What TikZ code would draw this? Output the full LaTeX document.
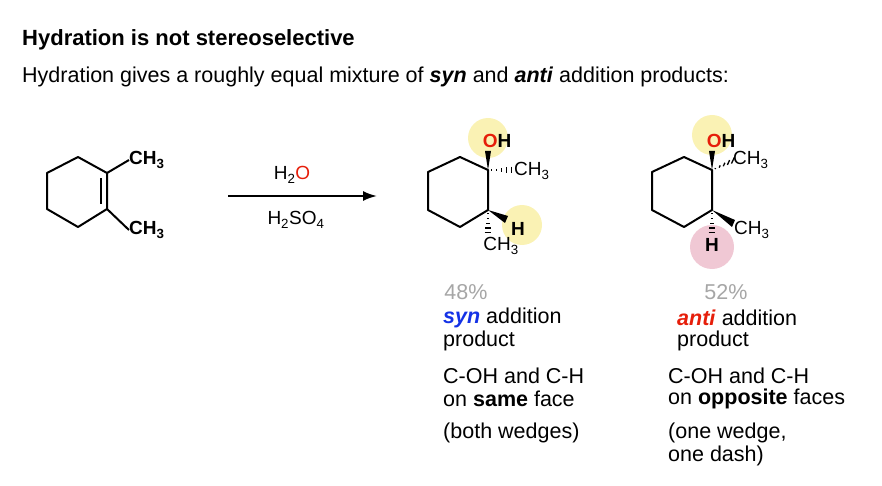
\documentclass[tikz,border=0pt]{standalone}
\usepackage{fontspec}
\setmainfont{Liberation Sans}
\usetikzlibrary{calc,arrows.meta}
\definecolor{ored}{RGB}{230,30,10}
\definecolor{sblue}{RGB}{20,50,230}
\definecolor{ylw}{RGB}{250,242,180}
\definecolor{pnk}{RGB}{240,200,212}
\newcommand{\sub}[1]{\textsubscript{#1}}
\begin{document}
\begin{tikzpicture}[x=1pt,y=-1pt,
  bond/.style={line width=2pt,line join=round},
  lab/.style={inner sep=0pt,font=\fontsize{19}{21}\selectfont},
  blab/.style={inner sep=0pt,font=\bfseries\fontsize{19}{21}\selectfont},
  txt/.style={inner sep=0pt,anchor=west,font=\fontsize{21.5}{24}\selectfont},
  glow/.style={circle,minimum size=40pt,inner sep=0pt,fill=#1}]
\useasboundingbox (0,0) rectangle (882,486);
\node[txt,font=\bfseries\fontsize{22}{24}\selectfont] (t) at (22,40) {Hydration is not stereoselective};
\node[txt] (s) at (22,77) {Hydration gives a roughly equal mixture of \textbf{\textit{syn}} and \textbf{\textit{anti}} addition products:};
% reactant
\coordinate (a1) at (107,173);\coordinate (a2) at (107,209);\coordinate (a3) at (78,227);
\coordinate (a4) at (47,209);\coordinate (a5) at (47,173);\coordinate (a6) at (78,157);
\draw[bond] (a1)--(a2)--(a3)--(a4)--(a5)--(a6)--cycle;
\draw[bond] ($(a1)!0.15!(a2)+(-6,0)$) -- ($(a2)!0.15!(a1)+(-6,0)$);
\node[blab,anchor=west] (m1) at (129,160) {CH\sub{3}};
\node[blab,anchor=west] (m2) at (129,230) {CH\sub{3}};
\draw[bond] (a1)--(m1.west);
\draw[bond] (a2)--(m2.west);
% arrow
\coordinate (r0) at (228,196);\coordinate (r1) at (377,196);
\draw[line width=2pt,-{Latex[length=14pt,width=10pt]}] (r0)--(r1);
\node[lab] (h2o) at (292,175) {H\sub{2}\textcolor{ored}{O}};
\node[lab] (h2so4) at (296,220) {H\sub{2}SO\sub{4}};
% product 1
\node[glow=ylw] (g1) at (488,138) {};
\node[glow=ylw] (g2) at (522,225) {};
\coordinate (b1) at (488,170);\coordinate (b2) at (488,210);\coordinate (b3) at (460,227);
\coordinate (b4) at (428,210);\coordinate (b5) at (428,172);\coordinate (b6) at (460,157);
\draw[bond] (b1)--(b2)--(b3)--(b4)--(b5)--(b6)--cycle;
\fill (b1) -- (485,151) -- (491,151) -- cycle;
\node[blab] (oh1) at (497,141) {\textcolor{ored}{O}H};
\foreach \i in {0.15,0.35,0.55,0.75,0.95} \draw[line width=1.3pt] ($(b1)!\i!(513,170)+(0,-\i*3.5)$)--($(b1)!\i!(513,170)+(0,\i*3.5)$);
\node[lab,anchor=west] (c1) at (514,171) {CH\sub{3}};
\fill (b2) -- (508,216) -- (505,223) -- cycle;
\node[blab] (h1) at (518,229) {H};
\foreach \i in {0.15,0.35,0.55,0.75,0.95} \draw[line width=1.3pt] ($(b2)!\i!(488,234)+(-\i*3.5,0)$)--($(b2)!\i!(488,234)+(\i*3.5,0)$);
\node[lab] (c2) at (501,246) {CH\sub{3}};
% product 2
\node[glow=ylw] (g3) at (712,135) {};
\node[glow=pnk,minimum size=44pt] (g4) at (712,247) {};
\coordinate (d1) at (712,170);\coordinate (d2) at (712,210);\coordinate (d3) at (684,227);
\coordinate (d4) at (652,210);\coordinate (d5) at (652,172);\coordinate (d6) at (684,157);
\draw[bond] (d1)--(d2)--(d3)--(d4)--(d5)--(d6)--cycle;
\fill (d1) -- (709,151) -- (715,151) -- cycle;
\node[blab] (oh2) at (721,141) {\textcolor{ored}{O}H};
\foreach \i in {0.15,0.35,0.55,0.75,0.95} \draw[line width=1.3pt] ($(d1)!\i!(734,160)+(\i*1.5,-\i*3.2)$)--($(d1)!\i!(734,160)+(-\i*1.5,\i*3.2)$);
\node[lab,anchor=west] (c3) at (733,160) {CH\sub{3}};
\fill (d2) -- (735,220) -- (732,227) -- cycle;
\node[lab,anchor=west] (c4) at (734,230) {CH\sub{3}};
\foreach \i in {0.15,0.35,0.55,0.75,0.95} \draw[line width=1.3pt] ($(d2)!\i!(712,234)+(-\i*3.5,0)$)--($(d2)!\i!(712,234)+(\i*3.5,0)$);
\node[blab] (h2) at (712,245) {H};
% captions
\node[txt,anchor=center,text=gray!70] (p1) at (466,292) {48\%};
\node[txt] (l1) at (443,318) {\textcolor{sblue}{\textbf{\textit{syn}}} addition};
\node[txt] (l2) at (443,341) {product};
\node[txt] (l3) at (443,376) {C-OH and C-H};
\node[txt] (l4) at (443,399) {on \textbf{same} face};
\node[txt] (l5) at (443,433) {(both wedges)};
\node[txt,anchor=center,text=gray!70] (p2) at (726,292) {52\%};
\node[txt] (k1) at (677,318) {\textcolor{ored}{\textbf{\textit{anti}}} addition};
\node[txt] (k2) at (677,341) {product};
\node[txt] (k3) at (668,376) {C-OH and C-H};
\node[txt] (k4) at (668,399) {on \textbf{opposite} faces};
\node[txt] (k5) at (668,433) {(one wedge,};
\node[txt] (k6) at (668,456) {one dash)};
\end{tikzpicture}
\end{document}
